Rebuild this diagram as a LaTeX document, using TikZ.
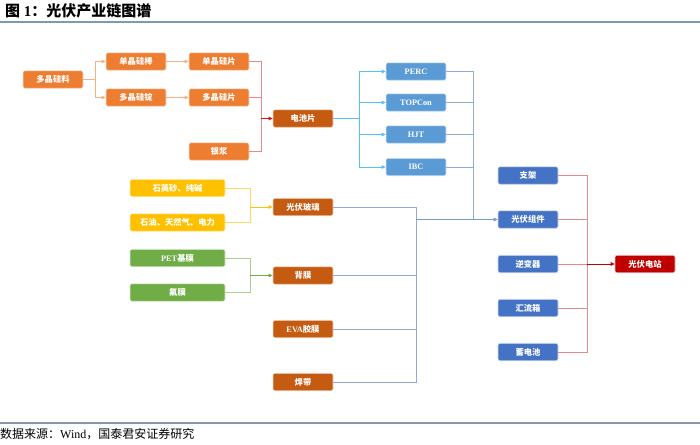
\documentclass[tikz,border=0pt]{standalone}
\usepackage{fontspec}
\setmainfont{Liberation Serif}
\newfontfamily\cjk{Noto Sans CJK SC}
\usetikzlibrary{arrows.meta}
\definecolor{corange}{HTML}{ED7D31}
\definecolor{cdark}{HTML}{C55A11}
\definecolor{clblue}{HTML}{5B9BD5}
\definecolor{cblue}{HTML}{4472C4}
\definecolor{cyellow}{HTML}{FFC000}
\definecolor{cgreen}{HTML}{70AD47}
\definecolor{cred}{HTML}{C00000}
\definecolor{lorange}{HTML}{F4B183}
\definecolor{lred}{HTML}{E88A8C}
\definecolor{lcyan}{HTML}{55C3F2}
\definecolor{lyellow}{HTML}{FFD966}
\definecolor{lgreen}{HTML}{A9D18E}
\definecolor{lblue}{HTML}{8FAADC}
\definecolor{rulec}{HTML}{8497B0}
\tikzset{
  box/.style={rounded corners=2pt, minimum width=60pt, minimum height=17.5pt, inner sep=0pt,
    text=white, font=\fontsize{8.3}{9}\selectfont\bfseries, draw=white!75!#1, line width=0.6pt, fill=#1},
  wbox/.style={box=#1, minimum width=95pt},
  conn/.style={draw=#1, line width=0.9pt},
  tip/.style={-{Triangle[length=4pt,width=3.5pt]}},
}
\begin{document}
\begin{tikzpicture}[x=1pt, y=-1pt]
\useasboundingbox (0,0) rectangle (700,444);
% title and rules
\node[anchor=west, inner sep=0pt, font=\fontsize{15}{15}\selectfont\bfseries] (title) at (5,11) {{\cjk 图} 1{\cjk ：光伏产业链图谱}};
\draw[rulec, line width=2pt] (0,22) -- (700,22);
\draw[rulec, line width=1.5pt] (0,423) -- (700,423);
\node[anchor=west, inner sep=0pt, font=\fontsize{12}{12}\selectfont] (src) at (0,434) {{\cjk 数据来源：}Wind{\cjk ，国泰君安证券研究}};

% nodes
\node[box=corange] (a1) at (53,79.5) {\cjk 多晶硅料};
\node[box=corange] (b1) at (136,61.5) {\cjk 单晶硅棒};
\node[box=corange] (b2) at (136,97.5) {\cjk 多晶硅锭};
\node[box=corange] (c1) at (219,61.5) {\cjk 单晶硅片};
\node[box=corange] (c2) at (219,97.5) {\cjk 多晶硅片};
\node[box=corange] (c3) at (219,151.5) {\cjk 银浆};
\node[box=cdark] (d) at (303,118.5) {\cjk 电池片};
\node[box=clblue] (e1) at (416,71.5) {PERC};
\node[box=clblue] (e2) at (416,102.5) {TOPCon};
\node[box=clblue] (e3) at (416,134.5) {HJT};
\node[box=clblue] (e4) at (416,167) {IBC};
\node[wbox=cyellow] (f1) at (177.5,188) {\cjk 石英砂、纯碱};
\node[wbox=cyellow] (f2) at (177.5,222.5) {\cjk 石油、天然气、电力};
\node[box=cdark] (g) at (303,207) {\cjk 光伏玻璃};
\node[wbox=cgreen] (h1) at (177.5,258) {PET{\cjk 基膜}};
\node[wbox=cgreen] (h2) at (177.5,292.5) {\cjk 氟膜};
\node[box=cdark] (i) at (303,275.5) {\cjk 背膜};
\node[box=cdark] (j) at (303,329) {EVA{\cjk 胶膜}};
\node[box=cdark] (k) at (303,382) {\cjk 焊带};
\node[box=cblue] (m1) at (528,175.5) {\cjk 支架};
\node[box=cblue] (m2) at (528,219.5) {\cjk 光伏组件};
\node[box=cblue] (m3) at (528,264) {\cjk 逆变器};
\node[box=cblue] (m4) at (528,308) {\cjk 汇流箱};
\node[box=cblue] (m5) at (528,352) {\cjk 蓄电池};
\node[box=cred] (n) at (645,264) {\cjk 光伏电站};

% bus coordinates
\coordinate (oa) at (95,79.5);
\coordinate (ra) at (261,118.5);
\coordinate (ca) at (359,118.5);
\coordinate (ba) at (473,219.5);
\coordinate (ya) at (250,207);
\coordinate (ga) at (250,275.5);
\coordinate (la) at (416,219.5);
\coordinate (rb) at (587,264);

% orange
\draw[conn=lorange] (a1.east) -- (oa);
\draw[conn=lorange, tip] (oa) |- (b1.west);
\draw[conn=lorange, tip] (oa) |- (b2.west);
\draw[conn=lorange, tip] (b1.east) -- (c1.west);
\draw[conn=lorange, tip] (b2.east) -- (c2.west);
% red to cell
\draw[conn=lred] (c1.east) -| (ra);
\draw[conn=lred] (c2.east) -| (ra);
\draw[conn=lred] (c3.east) -| (ra);
\draw[conn=cred!80!lred, tip] (ra) -- (d.west);
% cyan
\draw[conn=lcyan] (d.east) -- (ca);
\draw[conn=lcyan, tip] (ca) |- (e1.west);
\draw[conn=lcyan, tip] (ca) |- (e2.west);
\draw[conn=lcyan, tip] (ca) |- (e3.west);
\draw[conn=lcyan, tip] (ca) |- (e4.west);
% blue upper
\draw[conn=lblue] (e1.east) -| (ba);
\draw[conn=lblue] (e2.east) -| (ba);
\draw[conn=lblue] (e3.east) -| (ba);
\draw[conn=lblue] (e4.east) -| (ba);
% yellow, green
\draw[conn=lyellow] (f1.east) -| (ya);
\draw[conn=lyellow] (f2.east) -| (ya);
\draw[conn=cyellow, tip] (ya) -- (g.west);
\draw[conn=lgreen] (h1.east) -| (ga);
\draw[conn=lgreen] (h2.east) -| (ga);
\draw[conn=cgreen, tip] (ga) -- (i.west);
% blue lower
\draw[conn=lblue] (g.east) -| (la);
\draw[conn=lblue] (i.east) -| (la);
\draw[conn=lblue] (j.east) -| (la);
\draw[conn=lblue] (k.east) -| (la);
\draw[conn=lblue!70!cblue, tip] (la) -- (m2.west);
% red right
\draw[conn=lred] (m1.east) -| (rb);
\draw[conn=lred] (m2.east) -| (rb);
\draw[conn=lred] (m3.east) -| (rb);
\draw[conn=lred] (m4.east) -| (rb);
\draw[conn=lred] (m5.east) -| (rb);
\draw[conn=cred, tip] (rb) -- (n.west);
\end{tikzpicture}
\end{document}
